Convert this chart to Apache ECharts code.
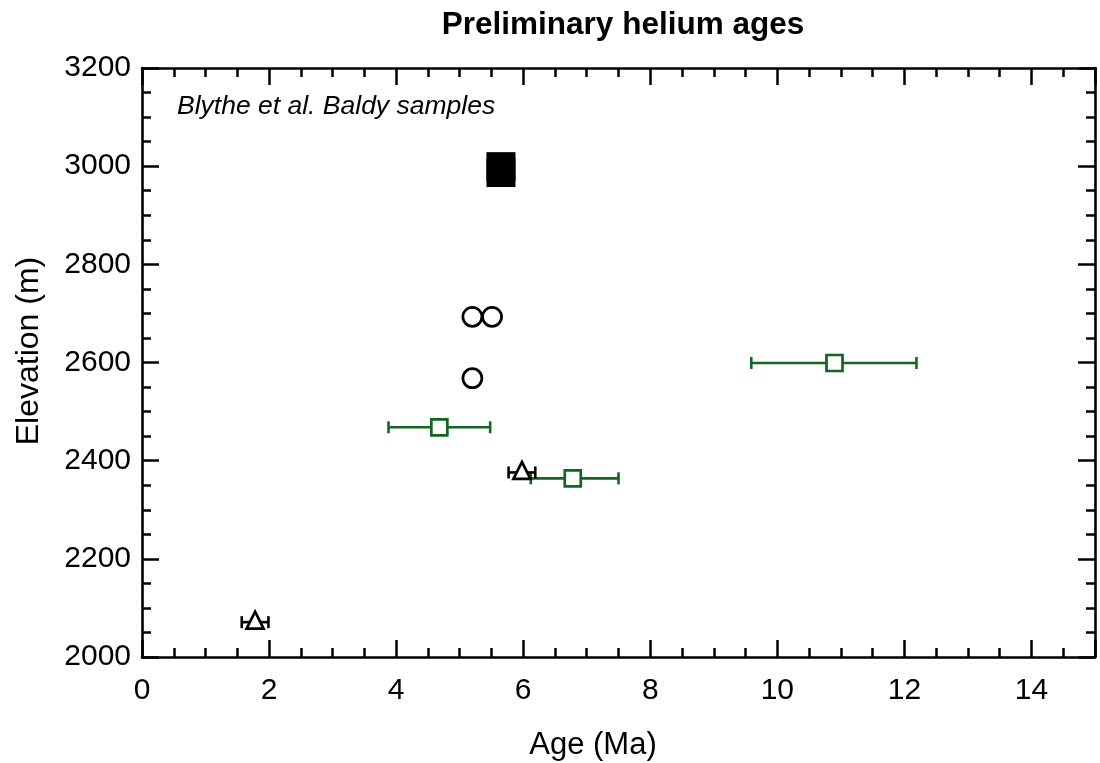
<!DOCTYPE html>
<html>
<head>
<meta charset="utf-8">
<script src="https://cdn.jsdelivr.net/npm/echarts@6/dist/echarts.min.js"></script>
<style>
html,body{margin:0;padding:0;background:#fff;}
#chart{width:1100px;height:763px;}
</style>
</head>
<body>
<div id="chart"></div>
<script>
// Data
const filledSquares = [[5.65, 2999], [5.65, 2987]];
const openCircles = [[5.20, 2693], [5.51, 2693], [5.20, 2568]];
const greenSquares = [[4.68, 2468], [6.78, 2364], [10.90, 2599]];
const greenErrLo = [3.88, 6.12, 9.59];
const greenErrHi = [5.48, 7.50, 12.19];
const triangles = [[5.98, 2376], [1.78, 2071]];
const triErrLo = [5.77, 1.57];
const triErrHi = [6.19, 1.99];
const xTicks = [0, 2, 4, 6, 8, 10, 12, 14];
const yTicks = [2000, 2200, 2400, 2600, 2800, 3000, 3200];

const FONT = '"Liberation Sans", Arial, Helvetica, sans-serif';
const chart = echarts.init(document.getElementById('chart'));

function errBarData(points, lo, hi) {
  return points.map((p, i) => [lo[i], hi[i], p[1]]);
}
function errRender(color) {
  return function (params, api) {
    const a = api.coord([api.value(0), api.value(2)]);
    const b = api.coord([api.value(1), api.value(2)]);
    const h = 6;
    const st = {stroke: color, lineWidth: 2.6};
    return {
      type: 'group',
      children: [
        {type: 'line', shape: {x1: a[0], y1: a[1], x2: b[0], y2: b[1]}, style: st},
        {type: 'line', shape: {x1: a[0], y1: a[1] - h, x2: a[0], y2: a[1] + h}, style: st},
        {type: 'line', shape: {x1: b[0], y1: b[1] - h, x2: b[0], y2: b[1] + h}, style: st}
      ]
    };
  };
}

const axisCommon = {
  axisLine: {show: true, onZero: false, lineStyle: {color: '#000', width: 2.6}},
  axisTick: {show: true, inside: true, length: 17, lineStyle: {color: '#000', width: 2.5}},
  minorTick: {show: true, splitNumber: 4, length: 9, lineStyle: {color: '#000', width: 2.5}},
  splitLine: {show: false},
  minorSplitLine: {show: false}
};

const option = {
  backgroundColor: '#fff',
  animation: false,
  grid: {left: 142, right: 5, top: 68, bottom: 106},
  xAxis: [
    Object.assign({
      type: 'value', min: 0, max: 15, interval: 2, position: 'bottom',
      axisLabel: {show: true, fontFamily: FONT, fontSize: 30, color: '#000', margin: 19,
        hideOverlap: false, showMaxLabel: true,
        formatter: v => (xTicks.indexOf(v) >= 0 ? String(v) : '')}
    }, axisCommon),
    Object.assign({
      type: 'value', min: 0, max: 15, interval: 2, position: 'top',
      axisLabel: {show: false}
    }, axisCommon)
  ],
  yAxis: [
    Object.assign({
      type: 'value', min: 2000, max: 3200, interval: 200, position: 'left',
      axisLabel: {show: true, fontFamily: FONT, fontSize: 30, color: '#000', margin: 11,
        hideOverlap: false,
        formatter: v => (yTicks.indexOf(v) >= 0 ? String(v) : '')}
    }, axisCommon),
    Object.assign({
      type: 'value', min: 2000, max: 3200, interval: 200, position: 'right',
      axisLabel: {show: false}
    }, axisCommon)
  ],
  graphic: [
    {
      type: 'text', x: 623, y: 25,
      style: {text: 'Preliminary helium ages', font: 'bold 31.5px ' + FONT, fill: '#000',
        textAlign: 'center', textVerticalAlign: 'middle'}
    },
    {
      type: 'text', x: 593, y: 745,
      style: {text: 'Age (Ma)', font: '31px ' + FONT, fill: '#000',
        textAlign: 'center', textVerticalAlign: 'middle'}
    },
    {
      type: 'text', x: 29, y: 351, rotation: Math.PI / 2,
      style: {text: 'Elevation (m)', font: '32px ' + FONT, fill: '#000',
        textAlign: 'center', textVerticalAlign: 'middle'}
    },
    {
      type: 'text', x: 177, y: 107,
      style: {text: 'Blythe et al. Baldy samples', font: 'italic 26.5px ' + FONT, fill: '#000',
        textAlign: 'left', textVerticalAlign: 'middle'}
    }
  ],
  series: [
    {
      type: 'custom', name: 'greenErr', xAxisIndex: 0, yAxisIndex: 0,
      renderItem: errRender('#13661f'),
      encode: {x: [0, 1], y: 2},
      data: errBarData(greenSquares, greenErrLo, greenErrHi), z: 2
    },
    {
      type: 'custom', name: 'triErr', xAxisIndex: 0, yAxisIndex: 0,
      renderItem: errRender('#000'),
      encode: {x: [0, 1], y: 2},
      data: errBarData(triangles, triErrLo, triErrHi), z: 2
    },
    {
      type: 'scatter', name: 'filled', data: filledSquares,
      symbol: 'rect', symbolSize: 29,
      itemStyle: {color: '#000', borderWidth: 0, opacity: 1}, z: 3
    },
    {
      type: 'scatter', name: 'circles', data: openCircles,
      symbol: 'circle', symbolSize: 19,
      itemStyle: {color: 'rgba(0,0,0,0)', borderColor: '#000', borderWidth: 2.7, opacity: 1}, z: 3
    },
    {
      type: 'scatter', name: 'greenSq', data: greenSquares,
      symbol: 'rect', symbolSize: 16,
      itemStyle: {color: '#fff', borderColor: '#13661f', borderWidth: 2.7, opacity: 1}, z: 4
    },
    {
      type: 'scatter', name: 'tri', data: triangles,
      symbol: 'triangle', symbolSize: 17, symbolOffset: [0, -2],
      itemStyle: {color: '#fff', borderColor: '#000', borderWidth: 2.7, opacity: 1}, z: 4
    }
  ]
};
chart.setOption(option);
</script>
</body>
</html>
